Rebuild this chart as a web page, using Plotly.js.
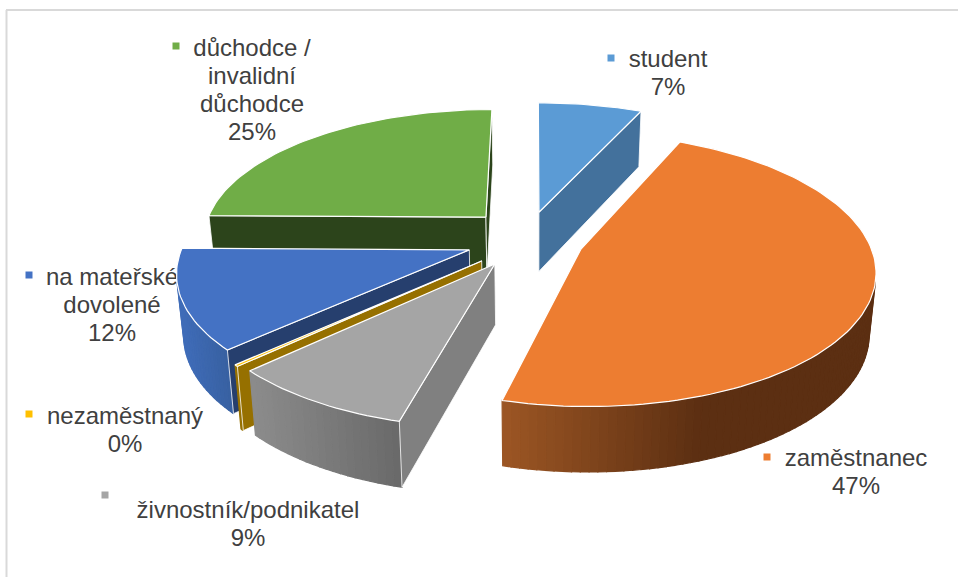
<!DOCTYPE html>
<html><head><meta charset="utf-8">
<script src="https://cdn.plot.ly/plotly-3.0.1.min.js"></script>
<style>html,body{margin:0;padding:0;background:#fff}#c{width:958px;height:577px}</style></head>
<body><div id="c"></div>
<script>
// --- data ---
const categories = ["student","zaměstnanec","živnostník/podnikatel","nezaměstnaný","na mateřské dovolené","důchodce / invalidní důchodce"];
const values = [6.7, 47.4, 8.8, 0.2, 12.1, 24.8];
const labelLines = [["student"],["zaměstnanec"],["živnostník/podnikatel"],["nezaměstnaný"],["na mateřské","dovolené"],["důchodce /","invalidní","důchodce"]];
// --- styles and layout ---
const explode = [0.2, 0.179, 0.23, 0.242, 0.235, 0.232];
const explodeDir = [5, 118.3, 214.4, 226, 248, 313.6];
const radiusScale = [1, 0.98, 0.985, 0.98, 0.97, 0.97];
const topColors = ["#5B9BD5","#ED7D31","#A5A5A5","#FFC000","#4472C4","#70AD47"];
const cutColors = ["#43719c","#8a4a1e","#808080","#967000","#263f6e","#2c441b"];
const wallLight = ["#43719c","#9c5624","#8c8c8c","#967000","#3f6cb8","#4f7a32"];
const wallDark  = ["#43719c","#5c2f12","#6a6a6a","#967000","#375f9f","#4f7a32"];
const wallFrom  = [540,502,250,240,180,200];
const wallTo    = [640,700,395,250,232,490];
const drawOrder = [5,4,3,2,0,1];
const labelX = [668,856,248,125,112,252];
const labelY = [75,474,526,432,307,92];
const keyX = [611,767,105,29,29,176];
const keyY = [58,457,495,414,275,46];
const lineGap = 28;
const cx=534, cy=238, R=293, K=133, persp=0.15, H=60, baseShrink=0.98;

const total = values.reduce((a,b)=>a+b,0);
function proj(p){const w=1+persp*p[1];return [cx+R*p[0]/w, cy-K*p[1]/w];}
function base(p){const w=1+persp*p[1],q=proj(p);return [cx+(q[0]-cx)*baseShrink, q[1]+H/Math.sqrt(w)];}
function poly(pts,fill,lineColor,lineWidth){
  const xs=pts.map(p=>p[0]),ys=pts.map(p=>p[1]);
  xs.push(xs[0]);ys.push(ys[0]);
  return {type:"scatter",mode:"lines",x:xs,y:ys,fill:"toself",fillcolor:fill,
    line:{color:lineColor,width:lineWidth},hoverinfo:"skip",showlegend:false};
}
function area(pts){let s=0;pts.forEach((p,i)=>{const q=pts[(i+1)%pts.length];s+=p[0]*q[1]-q[0]*p[1];});return s;}
function mix(a,b,t){
  const h=s=>[1,3,5].map(i=>parseInt(s.substr(i,2),16));
  const A=h(a),B=h(b);
  return "rgb("+A.map((v,i)=>Math.round(v+(B[i]-v)*t)).join(",")+")";
}
const starts=[];let acc=0;
values.forEach(v=>{starts.push(acc);acc+=v/total*360;});

const traces=[];
// labels sit under the pie, as in the reference
const tx=[],ty=[],tt=[];
labelLines.forEach((lines,i)=>{
  const all=lines.concat([Math.round(values[i]/total*100)+"%"]);
  all.forEach((t,j)=>{tx.push(labelX[i]);ty.push(labelY[i]+(j-(all.length-1)/2)*lineGap);tt.push(t);});
});
traces.push({type:"scatter",mode:"text",x:tx,y:ty,text:tt,
  textposition:"middle center",textfont:{family:"Liberation Sans, Arial, sans-serif",size:24,color:"#404040"},
  hoverinfo:"skip",showlegend:false});
traces.push({type:"scatter",mode:"markers",x:keyX,y:keyY,
  marker:{symbol:"square",size:7,color:topColors},hoverinfo:"skip",showlegend:false});

function side(a,b,fill,lineColor,lineWidth){
  const pts=[proj(a),proj(b),base(b),base(a)];
  if(area(pts)<0) traces.push(poly(pts,fill,lineColor,lineWidth));
}
drawOrder.forEach(i=>{
  const a0=starts[i],a1=a0+values[i]/total*360,dir=explodeDir[i]*Math.PI/180;
  const apex=[explode[i]*Math.sin(dir),explode[i]*Math.cos(dir)];
  const r=radiusScale[i];
  const n=Math.max(2,Math.ceil((a1-a0)/1.5));
  const rim=[];
  for(let k=0;k<=n;k++){
    const a=(a0+(a1-a0)*k/n)*Math.PI/180;
    rim.push([apex[0]+r*Math.sin(a),apex[1]+r*Math.cos(a)]);
  }
  for(let k=0;k<n;k++){
    const xm=(proj(rim[k])[0]+proj(rim[k+1])[0])/2;
    const t=Math.min(1,Math.max(0,(xm-wallFrom[i])/(wallTo[i]-wallFrom[i])));
    const col=mix(wallLight[i],wallDark[i],t);
    side(rim[k],rim[k+1],col,col,1.2);
  }
  side(apex,rim[0],cutColors[i],"#ffffff",0.8);
  side(rim[n],apex,cutColors[i],"#ffffff",0.8);
  traces.push(poly([proj(apex)].concat(rim.map(proj)),topColors[i],"#ffffff",1.2));
});

const layout={width:958,height:577,margin:{l:0,r:0,t:0,b:0},paper_bgcolor:"#fff",plot_bgcolor:"#fff",
  xaxis:{range:[0,958],visible:false,fixedrange:true},
  yaxis:{range:[577,0],visible:false,fixedrange:true},
  showlegend:false,
  shapes:[
    {type:"line",x0:6.5,x1:6.5,y0:10,y1:577,line:{color:"#d9d9d9",width:2},layer:"below"},
    {type:"line",x0:6,x1:958,y0:10,y1:10,line:{color:"#d9d9d9",width:2},layer:"below"}
  ]};
Plotly.newPlot("c",traces,layout,{displayModeBar:false,staticPlot:true});
</script></body></html>
